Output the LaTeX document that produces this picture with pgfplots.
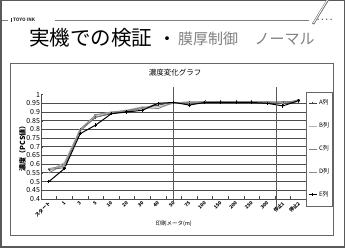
\documentclass[border=0pt]{standalone}
\usepackage{fontspec}
\setmainfont{Noto Sans CJK JP}
\usepackage{pgfplots}
\pgfplotsset{compat=1.18}
\pgfplotsset{legend image code/.code={\draw[mark repeat=2,mark phase=2,#1] plot coordinates {(0cm,0cm) (0.14cm,0cm) (0.28cm,0cm)};}}
\begin{document}
\begin{tikzpicture}
\useasboundingbox (0pt,0pt) rectangle (345pt,248pt);
\fill[white] (0pt,0pt) rectangle (345pt,248pt);
\draw[line width=1.5pt, black!65] (0.75pt,0.75pt) rectangle (344.25pt,247.25pt);
% header
\draw[black!50, line width=0.6pt] (2pt,228pt) -- (8pt,228pt);
\draw[black!50, line width=0.6pt] (55pt,228pt) -- (309pt,228pt);
\fill[black!80] (10.5pt,225.8pt) rectangle (11.7pt,230.2pt);
\node[anchor=west, inner sep=0pt, font=\fontsize{4.6}{5}\selectfont\bfseries, text=black!80] at (12.8pt,228pt) {TOYO INK};
\draw[black!55, line width=2.2pt] (313pt,224pt) -- (329pt,250pt);
\draw[white, line width=0.8pt] (313.5pt,225pt) -- (328pt,249pt);
\node[anchor=west, inner sep=0pt, font=\fontsize{7}{7}\selectfont\bfseries, text=black!60] at (316pt,227pt) {····};
\node[anchor=base west, inner sep=0pt, font=\fontsize{20.5}{20}\selectfont] at (29pt,202pt) {実機での検証};
\node[anchor=base west, inner sep=0pt, font=\fontsize{18}{18}\selectfont] at (158pt,202pt) {・};
\node[anchor=base west, inner sep=0pt, font=\fontsize{15}{15}\selectfont, text=black!50] at (178pt,203pt) {膜厚制御\hspace{1.1em}ノーマル};
% chart box
\draw[line width=0.9pt, black!60] (10pt,13pt) rectangle (333pt,185pt);
\node[font=\fontsize{7.5}{8}\selectfont, inner sep=0pt] at (175pt,175pt) {濃度変化グラフ};
\begin{axis}[
  at={(41.1pt,49pt)}, anchor=south west,
  scale only axis, width=265.2pt, height=104.4pt,
  xmin=-0.5, xmax=16.5, ymin=0.4, ymax=1,
  clip=false,
  axis x line*=bottom, axis y line*=left,
  axis line style={black!70, line width=0.8pt},
  tick align=inside,
  xtick={0,...,16},
  xticklabels={スタート,1,3,5,10,20,30,40,50,75,100,150,200,250,300,停止1,停止2},
  major x tick style={draw=none},
  minor xtick={-0.5,0.5,...,16.5},
  minor tick length=2.5pt,
  minor x tick style={black!70, line width=0.6pt},
  xticklabel style={rotate=45, anchor=north east, inner sep=0.5pt, font=\fontsize{4.8}{5}\selectfont\bfseries, xshift=-1.5pt},
  ytick={0.4,0.45,0.5,0.55,0.6,0.65,0.7,0.75,0.8,0.85,0.9,0.95,1},
  yticklabel style={font=\fontsize{7}{7}\selectfont, inner sep=1pt},
  major y tick style={black!70},
  major tick length=2pt,
  /pgf/number format/assume math mode=true,
  yticklabel={\pgfmathprintnumber[fixed,precision=2]{\tick}},
  extra y ticks={0.45,0.5,0.55,0.6,0.65,0.7,0.75,0.8,0.85,0.9,0.95},
  extra y tick labels={},
  extra y tick style={ymajorgrids=true, major tick length=0pt},
  major grid style={black!70, line width=0.9pt},
  xlabel={印刷メータ(m)},
  xlabel style={at={(rel axis cs:0.5,0)}, anchor=center, yshift=-25pt, font=\fontsize{5.5}{6}\selectfont},
  ylabel={濃度（PCS値）},
  ylabel style={font=\fontsize{7}{7}\selectfont\bfseries, yshift=-4pt},
  legend style={at={(rel axis cs:1,1.028)}, anchor=north west, draw=black!60, line width=0.6pt,
     font=\fontsize{6}{6}\selectfont, row sep=12.5pt, inner xsep=1.5pt, inner ysep=6pt},
  legend cell align=left,
  every axis plot/.append style={mark size=1.3pt},
]
\addplot[black!75, line width=0.8pt, mark=+] coordinates {
(0,0.57) (1,0.58) (2,0.80) (3,0.87) (4,0.89) (5,0.905) (6,0.92) (7,0.94) (8,0.955) (9,0.955) (10,0.96) (11,0.96) (12,0.96) (13,0.96) (14,0.955) (15,0.95) (16,0.96)};
\addlegendentry{A列}
\addplot[black!30, line width=1pt] coordinates {
(0,0.56) (1,0.61) (2,0.80) (3,0.88) (4,0.90) (5,0.91) (6,0.93) (7,0.93) (8,0.95) (9,0.96) (10,0.96) (11,0.96) (12,0.96) (13,0.96) (14,0.96) (15,0.955) (16,0.965)};
\addlegendentry{B列}
\addplot[black!50, line width=0.8pt, mark=-] coordinates {
(0,0.55) (1,0.60) (2,0.79) (3,0.87) (4,0.895) (5,0.91) (6,0.925) (7,0.92) (8,0.955) (9,0.95) (10,0.955) (11,0.96) (12,0.955) (13,0.96) (14,0.955) (15,0.96) (16,0.96)};
\addlegendentry{C列}
\addplot[black!45, line width=0.8pt, mark=-] coordinates {
(0,0.575) (1,0.59) (2,0.80) (3,0.885) (4,0.90) (5,0.905) (6,0.92) (7,0.95) (8,0.95) (9,0.955) (10,0.96) (11,0.955) (12,0.96) (13,0.955) (14,0.96) (15,0.95) (16,0.97)};
\addlegendentry{D列}
\addplot[black, line width=1pt, mark=+, mark size=1.6pt] coordinates {
(0,0.50) (1,0.575) (2,0.775) (3,0.825) (4,0.89) (5,0.90) (6,0.91) (7,0.95) (8,0.955) (9,0.94) (10,0.955) (11,0.955) (12,0.955) (13,0.955) (14,0.95) (15,0.935) (16,0.965)};
\addlegendentry{E列}
\draw[black!65, line width=0.8pt] (axis cs:8,0.377) -- (axis cs:8,1.045);
\draw[black!65, line width=0.8pt] (axis cs:14.6,0.345) -- (axis cs:14.6,1.045);
\end{axis}
\end{tikzpicture}
\end{document}
